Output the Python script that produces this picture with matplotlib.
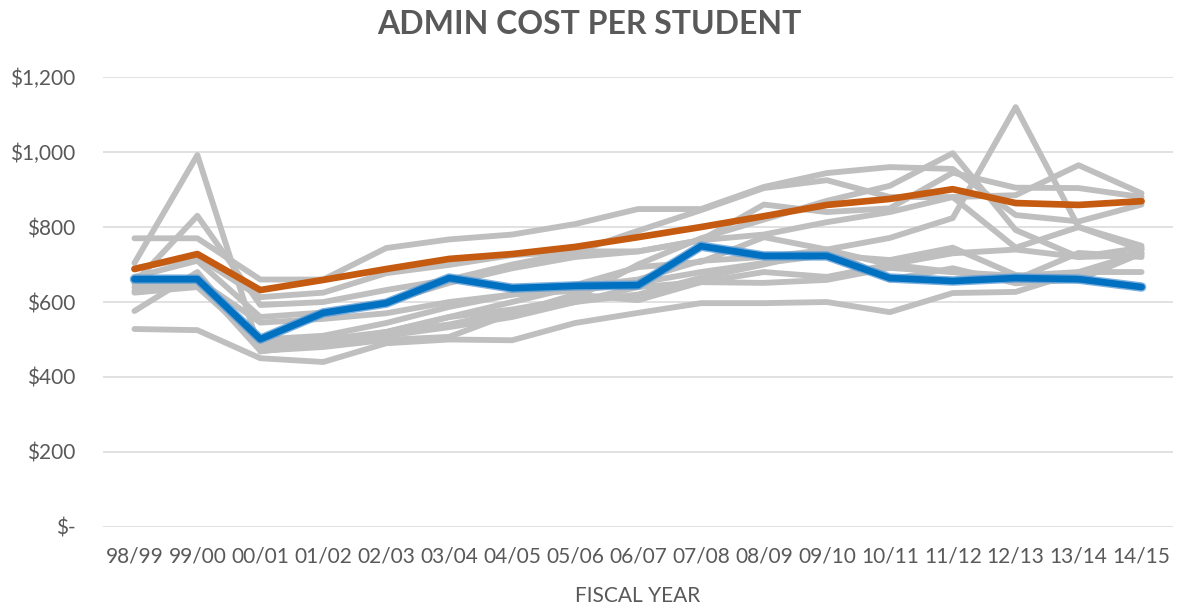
import numpy as np
import matplotlib
matplotlib.use('Agg')
import matplotlib.pyplot as plt
from matplotlib.ticker import FuncFormatter

plt.rcParams['font.family'] = ['Lato', 'DejaVu Sans']

# fiscal years on the category axis
years = ['98/99', '99/00', '00/01', '01/02', '02/03', '03/04', '04/05', '05/06', '06/07',
         '07/08', '08/09', '09/10', '10/11', '11/12', '12/13', '13/14', '14/15']

# highlighted series
orange_vals = [688, 728, 632, 659, 688, 715, 728, 747, 773, 800, 829, 859, 875, 901, 864, 859, 869]
blue_vals = [661, 661, 501, 571, 597, 664, 637, 643, 645, 749, 723, 723, 664, 656, 664, 661, 640]

# background (grey) series
grey_vals = [
    [770, 770, 660, 660, 744, 767, 780, 808, 848, 848, 907, 944, 960, 955, 832, 815, 860],
    [704, 992, 468, 488, 520, 560, 580, 610, 700, 770, 820, 870, 910, 997, 792, 720, 745],
    [651, 830, 592, 600, 632, 660, 700, 733, 790, 845, 904, 925, 880, 880, 885, 965, 890],
    [690, 720, 613, 625, 677, 699, 725, 735, 735, 765, 860, 840, 850, 945, 905, 904, 880],
    [667, 710, 560, 572, 600, 651, 690, 720, 735, 765, 780, 813, 840, 880, 745, 800, 750],
    [640, 660, 545, 555, 570, 600, 620, 645, 693, 707, 773, 740, 771, 824, 1120, 800, 740],
    [630, 650, 500, 510, 544, 587, 620, 630, 651, 680, 704, 725, 712, 745, 672, 660, 740],
    [625, 640, 490, 500, 520, 560, 600, 640, 660, 710, 720, 739, 700, 680, 670, 680, 680],
    [576, 680, 480, 485, 510, 533, 560, 600, 640, 653, 680, 667, 700, 730, 740, 720, 725],
    [650, 655, 470, 480, 499, 507, 570, 620, 605, 653, 651, 659, 691, 680, 660, 731, 720],
    [528, 525, 450, 440, 490, 500, 498, 544, 571, 597, 597, 600, 573, 624, 627, 680, 731],
    [660, 655, 480, 495, 520, 540, 575, 600, 620, 665, 700, 740, 660, 690, 650, 660, 730],
]

yticks = [0, 200, 400, 600, 800, 1000, 1200]

txt = '#595959'
x = np.arange(len(years))

fig = plt.figure(figsize=(11.78, 6.12), dpi=100)
ax = fig.add_axes([0.0874, 0.139, 0.9084, 0.735])

kw = dict(solid_capstyle='round', solid_joinstyle='round')
for g in grey_vals:
    ax.plot(x, g, color='#BFBFBF', lw=4.2, zorder=2, **kw)
ax.plot(x, orange_vals, color='#C55A11', lw=4.8, zorder=3, **kw)
ax.plot(x, blue_vals, color='#5B9BD5', lw=6.8, alpha=0.8, zorder=4, **kw)
ax.plot(x, blue_vals, color='#0070C0', lw=4.8, zorder=5, **kw)

ax.set_xlim(-0.5, len(years) - 0.5)
ax.set_ylim(0, 1200)
ax.set_yticks(yticks)
ax.yaxis.set_major_formatter(FuncFormatter(lambda v, p: '$-' if v == 0 else '${:,.0f}'.format(v)))
ax.set_xticks(x)
ax.set_xticklabels(years)
ax.grid(axis='y', color='#D9D9D9', lw=1.1)
ax.set_axisbelow(True)
for s in ax.spines.values():
    s.set_visible(False)
ax.tick_params(length=0, labelsize=15, colors=txt, pad=14)
ax.tick_params(axis='y', pad=20)

ax.set_xlabel('FISCAL YEAR', fontsize=15, color=txt, labelpad=14)
fig.suptitle('ADMIN COST PER STUDENT', fontsize=23, fontweight='bold', color=txt, y=0.983)

fig.savefig('out.png', dpi=100)
